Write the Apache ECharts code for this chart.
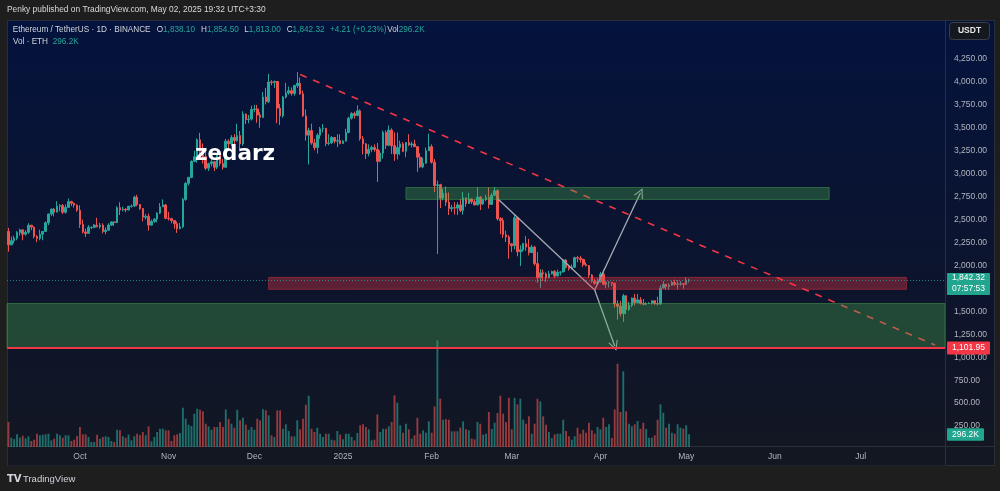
<!DOCTYPE html>
<html>
<head>
<meta charset="utf-8">
<script src="https://cdn.jsdelivr.net/npm/echarts@6/dist/echarts.min.js"></script>
<style>
html, body { margin: 0; padding: 0; background: #1e1e1e; }
#chart { width: 1000px; height: 491px; }
</style>
</head>
<body>
<div id="chart"></div>
<script>
// 日期范围：2024-09-06 起，含右侧空白区域共 328 天
const startDate = [2024, 8, 6];
const dayCount = 328;

// 月份刻度
const monthTicks = [
    ['2024-10-01', 'Oct'], ['2024-11-01', 'Nov'], ['2024-12-01', 'Dec'], ['2025-01-01', '2025'],
    ['2025-02-01', 'Feb'], ['2025-03-01', 'Mar'], ['2025-04-01', 'Apr'], ['2025-05-01', 'May'],
    ['2025-06-01', 'Jun'], ['2025-07-01', 'Jul']
];

// 日K数据 [开, 高, 低, 收]
const ohlc = [
    // Sep
    [2370,2410,2150,2225],[2225,2315,2220,2270],[2270,2325,2240,2297],[2297,2375,2275,2359],[2359,2400,2325,2388],
    [2388,2390,2275,2341],[2341,2385,2325,2361],[2361,2460,2345,2439],[2439,2440,2385,2418],[2418,2425,2295,2316],
    [2316,2330,2255,2295],[2295,2390,2275,2341],[2341,2375,2275,2371],[2371,2480,2370,2465],[2465,2565,2440,2561],
    [2561,2620,2540,2615],[2615,2625,2535,2581],[2581,2700,2580,2646],[2646,2670,2590,2653],[2653,2670,2560,2580],
    [2580,2665,2565,2633],[2633,2730,2625,2696],[2696,2705,2650,2677],[2677,2685,2630,2658],[2658,2665,2585,2602],
    // Oct
    [2602,2655,2410,2448],[2448,2500,2350,2365],[2365,2400,2310,2350],[2350,2440,2345,2415],[2415,2425,2395,2416],
    [2416,2450,2405,2440],[2440,2520,2415,2422],[2422,2465,2400,2440],[2440,2460,2350,2370],[2370,2415,2340,2385],
    [2385,2460,2380,2440],[2440,2480,2430,2475],[2475,2480,2430,2468],[2468,2645,2460,2630],[2630,2690,2550,2605],
    [2605,2640,2590,2612],[2612,2625,2580,2605],[2605,2650,2600,2645],[2645,2665,2630,2648],[2648,2760,2635,2745],
    [2745,2770,2645,2665],[2665,2670,2605,2620],[2620,2625,2480,2525],[2525,2560,2500,2535],[2535,2565,2380,2440],
    [2440,2500,2435,2480],[2480,2515,2465,2505],[2505,2580,2470,2570],[2570,2680,2560,2640],[2640,2720,2640,2660],
    [2660,2670,2505,2515],
    // Nov
    [2515,2585,2490,2510],[2510,2520,2460,2490],[2490,2495,2400,2455],[2455,2480,2355,2400],[2400,2465,2395,2420],
    [2420,2735,2410,2720],[2720,2910,2705,2895],[2895,2965,2870,2960],[2960,3145,2950,3135],[3135,3250,3125,3185],
    [3185,3385,3120,3370],[3370,3445,3215,3245],[3245,3330,3110,3185],[3185,3245,3040,3060],[3060,3120,3030,3110],
    [3110,3175,3080,3130],[3130,3140,3030,3070],[3070,3220,3050,3200],[3200,3220,3085,3110],[3110,3160,3045,3070],
    [3070,3380,3070,3355],[3355,3375,3265,3325],[3325,3420,3300,3395],[3395,3430,3250,3360],[3360,3545,3350,3415],
    [3415,3465,3270,3325],[3325,3680,3305,3650],[3650,3655,3540,3590],[3590,3640,3550,3595],[3595,3740,3580,3700],
    // Dec
    [3700,3750,3670,3705],[3705,3750,3555,3640],[3640,3670,3500,3615],[3615,3890,3605,3835],[3835,3935,3755,3785],
    [3785,4087,3770,4000],[4000,4020,3965,3995],[3995,4015,3935,4005],[4005,4010,3550,3715],[3715,3760,3530,3630],
    [3630,3845,3610,3835],[3835,3990,3820,3880],[3880,3950,3860,3905],[3905,3940,3850,3875],[3875,3970,3850,3960],
    [3960,4107,3935,3985],[3985,4050,3860,3870],[3870,3905,3620,3630],[3630,3700,3360,3420],[3420,3500,3100,3470],
    [3470,3545,3315,3335],[3335,3380,3255,3285],[3285,3440,3220,3420],[3420,3510,3380,3490],[3490,3540,3450,3495],
    [3495,3495,3300,3330],[3330,3430,3310,3335],[3335,3410,3325,3395],[3395,3400,3330,3355],[3355,3430,3290,3360],
    [3360,3430,3320,3330],
    // Jan
    [3330,3365,3325,3355],[3355,3490,3350,3450],[3450,3620,3440,3605],[3605,3670,3590,3655],[3655,3675,3600,3635],
    [3635,3745,3625,3685],[3685,3700,3360,3380],[3380,3410,3210,3325],[3325,3335,3160,3220],[3220,3320,3190,3265],
    [3265,3305,3235,3285],[3285,3320,3240,3265],[3265,3335,2910,3135],[3135,3255,3125,3225],[3225,3470,3165,3450],
    [3450,3470,3270,3310],[3310,3525,3300,3475],[3475,3495,3215,3305],[3305,3450,3140,3215],[3215,3450,3155,3285],
    [3285,3360,3205,3325],[3325,3345,3235,3245],[3245,3345,3180,3340],[3340,3430,3300,3315],[3315,3350,3285,3325],
    [3325,3370,3290,3295],[3295,3295,3020,3180],[3180,3225,3065,3075],[3075,3175,3060,3115],[3115,3285,3110,3250],
    [3250,3435,3250,3295],
    // Feb
    [3295,3320,3110,3125],[3125,3160,2800,2870],[2870,2925,2125,2880],[2880,2890,2625,2735],[2735,2835,2710,2785],
    [2785,2860,2650,2690],[2690,2795,2550,2620],[2620,2660,2585,2630],[2630,2690,2555,2625],[2625,2690,2550,2660],
    [2660,2725,2580,2600],[2600,2800,2555,2735],[2735,2740,2640,2675],[2675,2790,2670,2725],[2725,2730,2670,2695],
    [2695,2720,2655,2660],[2660,2850,2655,2745],[2745,2755,2605,2670],[2670,2725,2660,2720],[2720,2770,2700,2740],
    [2740,2850,2620,2665],[2665,2790,2660,2765],[2765,2855,2760,2815],[2815,2830,2490,2510],[2510,2525,2340,2490],
    [2490,2520,2300,2335],[2335,2380,2255,2310],[2310,2330,2075,2235],
    // Mar
    [2235,2245,2145,2215],[2215,2550,2175,2520],[2520,2525,2100,2150],[2150,2220,1995,2170],[2170,2245,2150,2240],
    [2240,2320,2160,2200],[2200,2290,2110,2140],[2140,2225,2135,2200],[2200,2215,2000,2020],[2020,2145,1810,1865],
    [1865,1960,1755,1920],[1920,1955,1830,1910],[1910,1925,1820,1865],[1865,1940,1860,1910],[1910,1945,1900,1935],
    [1935,1950,1860,1885],[1885,1955,1880,1925],[1925,1935,1890,1930],[1930,2070,1925,2060],[2060,2070,1965,1980],
    [1980,2000,1945,1965],[1965,2010,1960,1980],[1980,2095,1975,2085],[2085,2105,2035,2080],[2080,2105,2030,2065],
    [2065,2075,1985,2010],[2010,2035,1990,2000],[2000,2005,1865,1895],[1895,1905,1810,1830],[1830,1855,1790,1805],
    [1805,1860,1795,1820],
    // Apr
    [1820,1930,1815,1905],[1905,1955,1785,1795],[1795,1835,1750,1815],[1815,1830,1760,1817],[1817,1820,1775,1805],
    [1805,1815,1540,1580],[1580,1620,1410,1555],[1555,1615,1445,1475],[1475,1690,1385,1670],[1670,1675,1470,1520],
    [1520,1605,1505,1565],[1565,1650,1545,1645],[1645,1690,1565,1595],[1595,1690,1590,1625],[1625,1655,1575,1585],
    [1585,1635,1565,1578],[1578,1600,1565,1585],[1585,1600,1580,1588],[1588,1620,1575,1615],[1615,1620,1570,1585],
    [1585,1660,1565,1580],[1580,1785,1570,1755],[1755,1830,1750,1795],[1795,1800,1735,1770],[1770,1805,1735,1785],
    [1785,1835,1780,1815],[1815,1845,1780,1795],[1795,1840,1740,1798],[1798,1830,1780,1800],[1800,1805,1745,1795],
    // May
    [1795,1870,1790,1838],[1838.10,1854.50,1813.00,1842.32]
];

// 成交量（千 ETH）
const volumes = [
    583,217,186,296,217,263,203,249,140,170,310,273,287,296,310,156,193,310,273,217,
    273,273,140,170,256,466,296,296,233,117,117,287,193,233,249,233,140,117,403,389,
    249,217,287,156,249,310,273,350,273,482,133,233,350,426,426,389,389,140,273,296,
    326,916,659,520,489,776,892,869,832,543,482,403,466,466,583,466,878,659,543,
    450,869,622,683,520,403,466,403,659,622,878,855,739,273,233,855,855,426,529,373,
    249,249,622,412,659,986,1195,426,350,450,310,233,310,310,170,156,373,287,179,310,
    310,233,156,326,506,529,466,412,156,170,762,350,426,426,482,583,1205,1032,506,333,
    543,412,193,273,683,310,389,333,599,333,948,2486,1125,636,645,636,366,366,366,450,
    599,412,389,193,179,583,543,287,310,816,419,566,792,1195,776,583,1149,412,1142,995,
    1125,636,543,715,310,543,1125,1065,715,520,350,210,296,310,310,636,373,249,170,249,
    450,310,403,333,566,389,310,466,412,683,466,529,210,878,1941,816,1764,832,543,482,
    529,606,426,566,419,217,217,273,636,995,799,450,543,333,310,529,450,426,506,296.2
];

// 画线：趋势线、箭头、区域、水平线
const trendLine = [['2024-12-17', 4080], ['2025-07-27', 1133]];
const pathSegment = [['2025-02-24', 2730], ['2025-03-30', 1733]];
const upArrow = [['2025-03-30', 1733], ['2025-04-15', 2793]];
const downArrow = [['2025-03-30', 1733], ['2025-04-06', 1122]];
const upperZone = [['2025-01-23', 2850], ['2025-06-20', 2720]];
const redZone = [['2024-12-06', 1870], ['2025-07-17', 1740]];
const supportZone = [1585, 1101.95];
const supportLevel = 1101.95;
const lastPrice = 1842.32;
const lastVolume = 296.2;

const UP = '#26a69a';
const DOWN = '#ef5350';
const FONT = '"Liberation Sans", Arial, sans-serif';

// 生成日期类目
const dates = [];
for (let i = 0; i < dayCount; i++) {
    const d = new Date(Date.UTC(startDate[0], startDate[1], startDate[2] + i));
    dates.push(d.toISOString().slice(0, 10));
}
const tickMap = {};
monthTicks.forEach(t => { tickMap[t[0]] = t[1]; });

function fmt(v) {
    return v.toLocaleString('en-US', { minimumFractionDigits: 2, maximumFractionDigits: 2 });
}

const chart = echarts.init(document.getElementById('chart'));

const candleData = ohlc.map(r => [r[0], r[3], r[2], r[1]]);
const volumeData = volumes.map((v, i) => ({
    value: v,
    itemStyle: { color: ohlc[i][3] >= ohlc[i][0] ? 'rgba(38,166,154,0.62)' : 'rgba(239,83,80,0.6)' }
}));

const chevron = 'path://M0,10 L5,0 L10,10 L8.8,10 L5,2.4 L1.2,10 Z';

function seg(pair) {
    return [{ coord: pair[0] }, { coord: pair[1] }];
}

const option = {
    backgroundColor: '#1e1e1e',
    animation: false,
    grid: [
        { left: 7, right: 55, top: 20, bottom: 42 },
        { left: 7, right: 55, bottom: 44, height: 130 }
    ],
    xAxis: [
        {
            type: 'category', gridIndex: 0, data: dates, boundaryGap: true,
            axisLine: { show: false }, axisTick: { show: false }, splitLine: { show: false },
            axisLabel: {
                interval: (idx, val) => tickMap[val] !== undefined,
                formatter: val => tickMap[val] || '',
                color: '#b2b5be', fontSize: 8.5, fontFamily: FONT, margin: 3
            }
        },
        { type: 'category', gridIndex: 1, data: dates, boundaryGap: true, show: false }
    ],
    yAxis: [
        {
            type: 'value', gridIndex: 0, position: 'right', min: 0, max: 4675, interval: 250,
            axisLine: { show: false }, axisTick: { show: false }, splitLine: { show: false },
            axisLabel: {
                color: '#b2b5be', fontSize: 8.5, fontFamily: FONT, margin: 9, align: 'left',
                formatter: v => (v >= 250 && v <= 4250 && v % 250 === 0) ? fmt(v) : ''
            }
        },
        { type: 'value', gridIndex: 1, min: 0, max: 3032, show: false }
    ],
    series: [
        {
            name: 'volume', type: 'bar', xAxisIndex: 1, yAxisIndex: 1,
            data: volumeData, barWidth: '65%', z: 1, silent: true
        },
        {
            name: 'ETHUSDT', type: 'candlestick', xAxisIndex: 0, yAxisIndex: 0,
            data: candleData, barWidth: '72%', z: 2, silent: true,
            itemStyle: { color: UP, color0: DOWN, borderColor: UP, borderColor0: DOWN, borderWidth: 1 }
        },
        {
            name: 'trend', type: 'line', xAxisIndex: 0, yAxisIndex: 0, data: [], silent: true,
            markLine: {
                z: 3, silent: true, symbol: ['none', 'none'], label: { show: false },
                lineStyle: { color: '#f23645', width: 1.6, type: [7, 7] },
                data: [seg(trendLine)]
            }
        },
        {
            name: 'path', type: 'line', xAxisIndex: 0, yAxisIndex: 0, data: [], silent: true,
            markLine: {
                z: 3, silent: true, symbol: ['none', 'none'], label: { show: false },
                lineStyle: { color: '#a8abb4', width: 1.3, type: 'solid' },
                data: [seg(pathSegment)]
            }
        },
        {
            name: 'arrows', type: 'line', xAxisIndex: 0, yAxisIndex: 0, data: [], silent: true,
            markLine: {
                z: 3, silent: true, symbol: ['none', chevron], symbolSize: 10, label: { show: false },
                lineStyle: { color: '#a8abb4', width: 1.3, type: 'solid' },
                data: [seg(upArrow), seg(downArrow)]
            }
        },
        {
            name: 'zones', type: 'line', xAxisIndex: 0, yAxisIndex: 0, data: [], silent: true,
            markArea: {
                z: 4, silent: true, label: { show: false },
                data: [
                    [{ coord: upperZone[0], itemStyle: { color: 'rgba(76,175,80,0.33)', borderColor: 'rgba(76,175,80,0.45)', borderWidth: 1 } }, { coord: upperZone[1] }],
                    [{ coord: redZone[0], itemStyle: { color: 'rgba(242,54,69,0.35)', borderColor: 'rgba(242,54,69,0.45)', borderWidth: 1 } }, { coord: redZone[1] }],
                    [{ yAxis: supportZone[0], itemStyle: { color: 'rgba(76,175,80,0.33)', borderColor: 'rgba(76,175,80,0.45)', borderWidth: 1 } }, { yAxis: supportZone[1] }]
                ]
            }
        },
        {
            name: 'levels', type: 'line', xAxisIndex: 0, yAxisIndex: 0, data: [], silent: true,
            markLine: {
                z: 6, silent: true, symbol: ['none', 'none'], label: { show: false },
                data: [
                    { yAxis: supportLevel, lineStyle: { color: '#f23645', width: 2, type: 'solid' } },
                    { yAxis: lastPrice, lineStyle: { color: 'rgba(38,166,154,0.75)', width: 1, type: [1, 2] } }
                ]
            }
        }
    ]
};

chart.setOption(option);

// 背景、文字与价格标签
const yLast = chart.convertToPixel({ yAxisIndex: 0 }, lastPrice);
const ySup = chart.convertToPixel({ yAxisIndex: 0 }, supportLevel);
const yVol = chart.convertToPixel({ yAxisIndex: 1 }, lastVolume);

const gray = '#d1d4dc';
const teal = '#26a69a';
const LF = '8.2px ' + FONT;

function txt(x, y, s, color, font, extra) {
    return {
        type: 'text', x: x, y: y, z: 100,
        style: Object.assign({ text: s, fill: color, font: font, verticalAlign: 'middle' }, extra || {})
    };
}
function pair(x, y, label, value) {
    return {
        type: 'text', x: x, y: y, z: 100,
        style: {
            text: '{l|' + label + '}{v|' + value + '}', verticalAlign: 'middle', font: LF,
            rich: { l: { fill: gray, font: LF }, v: { fill: teal, font: LF } }
        }
    };
}

const graphics = [
    {
        type: 'rect', z: -10, shape: { x: 7.5, y: 20.5, width: 987, height: 445 },
        style: {
            fill: new echarts.graphic.LinearGradient(0, 0, 0, 1, [
                { offset: 0, color: '#04133d' },
                { offset: 0.55, color: '#0c142e' },
                { offset: 1, color: '#131722' }
            ]),
            stroke: '#2a2e39', lineWidth: 1
        }
    },
    { type: 'line', z: -9, shape: { x1: 945.5, y1: 20, x2: 945.5, y2: 466 }, style: { stroke: '#2a2e39', lineWidth: 1 } },
    { type: 'line', z: -9, shape: { x1: 7, y1: 446.5, x2: 995, y2: 446.5 }, style: { stroke: '#2a2e39', lineWidth: 1 } },
    { type: 'rect', z: -9, shape: { x: 8, y: 447, width: 937, height: 18.5 }, style: { fill: '#131722' } },

    txt(7, 10, 'Penky published on TradingView.com, May 02, 2025 19:32 UTC+3:30', '#d9d9d9', '8.4px ' + FONT),

    txt(12.7, 29.5, 'Ethereum / TetherUS · 1D · BINANCE', gray, LF),
    pair(156.7, 29.5, 'O', '1,838.10'),
    pair(201, 29.5, 'H', '1,854.50'),
    pair(244.3, 29.5, 'L', '1,813.00'),
    pair(286.7, 29.5, 'C', '1,842.32'),
    txt(330, 29.5, '+4.21 (+0.23%)', teal, LF),
    pair(387.3, 29.5, 'Vol', '296.2K'),
    txt(13, 42, 'Vol · ETH', gray, LF),
    txt(52.7, 42, '296.2K', teal, LF),

    // 水印
    txt(195, 154, 'zedarz', '#ffffff', 'bold 21.5px "DejaVu Sans", sans-serif'),

    // USDT
    { type: 'rect', z: 100, shape: { x: 949.5, y: 22.5, width: 40, height: 17, r: 3 }, style: { fill: '#16181f', stroke: '#3a3d47', lineWidth: 1 } },
    txt(969.5, 31, 'USDT', '#e6e6e6', 'bold 8.5px ' + FONT, { align: 'center' }),

    // 价格标签
    { type: 'rect', z: 100, shape: { x: 947, y: yLast - 7, width: 43, height: 22, r: 1 }, style: { fill: '#22a58f' } },
    txt(968.5, yLast - 2, fmt(lastPrice), '#ffffff', '8.5px ' + FONT, { align: 'center' }),
    txt(968.5, yLast + 8.5, '07:57:53', '#ffffff', '8.5px ' + FONT, { align: 'center' }),
    { type: 'rect', z: 100, shape: { x: 947, y: ySup - 6.5, width: 43, height: 13, r: 1 }, style: { fill: '#f23645' } },
    txt(968.5, ySup, fmt(supportLevel), '#ffffff', '8.5px ' + FONT, { align: 'center' }),
    { type: 'rect', z: 100, shape: { x: 947, y: yVol - 6, width: 37, height: 12.5, r: 1 }, style: { fill: '#22a58f' } },
    txt(965.5, yVol + 0.3, '296.2K', '#ffffff', '8.5px ' + FONT, { align: 'center' }),

    // TradingView 标志
    txt(7, 479, 'TV', '#d1d4dc', 'bold 10px "DejaVu Sans", sans-serif'),
    txt(23, 479, 'TradingView', '#d1d4dc', '9.5px ' + FONT)
];

chart.setOption({ graphic: graphics });
</script>
</body>
</html>
